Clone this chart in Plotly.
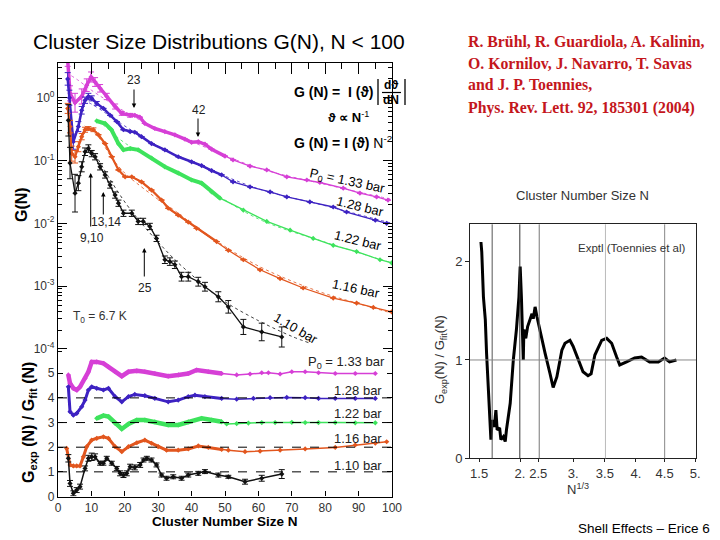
import plotly.graph_objects as go

W, H = 720, 540

# ---------------- left, upper panel: G(N), values read as log10 G ----------------
N_133 = [2.9, 3.6, 5.1, 7.1, 8.6, 9.9, 11.1, 12.6, 14.6, 17.1, 19.1, 21.6, 23, 24.5, 26, 29, 32, 35, 38, 40, 42, 44, 46, 50, 52.4, 57.5, 62.5, 68.5, 74.5, 78.4, 85.4, 90.4, 95.4, 98.8]
L_133 = [0.60, 0.07, -0.08, 0.02, 0.20, 0.33, 0.25, 0.15, 0.02, -0.14, -0.25, -0.28, -0.28, -0.31, -0.41, -0.49, -0.54, -0.59, -0.66, -0.71, -0.70, -0.74, -0.82, -0.93, -0.99, -1.09, -1.15, -1.26, -1.31, -1.35, -1.44, -1.52, -1.58, -1.63]
E_133 = [0.10, 0.12, 0.15, 0.12, 0.10, 0.08, 0.07, 0.06, 0.05, 0.04, 0.03, 0.03, 0, 0, 0, 0, 0, 0, 0, 0, 0, 0, 0, 0, 0, 0, 0, 0, 0, 0, 0, 0, 0, 0]

N_128 = [2.9, 3.4, 4.6, 6.1, 7.1, 8.1, 9.1, 10.1, 11.6, 13.6, 15.6, 17.6, 19.6, 21.6, 23, 25, 28, 32, 36, 40, 43, 46, 49, 52.4, 57.5, 63.5, 68.5, 75.4, 82.4, 86.4, 95, 98.4]
L_128 = [0.30, 0.00, -0.70, -0.46, -0.20, -0.04, 0.02, -0.01, -0.09, -0.17, -0.28, -0.38, -0.51, -0.54, -0.55, -0.62, -0.73, -0.83, -0.94, -1.02, -1.08, -1.16, -1.23, -1.34, -1.42, -1.50, -1.58, -1.66, -1.74, -1.82, -1.95, -2.00]
E_128 = [0.10, 0.12, 0.12, 0.08, 0.06, 0.05, 0.05, 0.04, 0.03, 0, 0, 0, 0, 0, 0, 0, 0, 0, 0, 0, 0, 0, 0, 0, 0, 0, 0, 0, 0, 0, 0, 0]

N_122 = [11.6, 14.1, 16, 18.1, 19.6, 21.6, 24, 28, 32, 36, 40, 43, 46, 48.5, 55.5, 62.5, 69.5, 76.4, 82.4, 89.4, 96.4, 99.9]
L_122 = [-0.37, -0.41, -0.51, -0.73, -0.83, -0.81, -0.83, -0.96, -1.10, -1.20, -1.31, -1.36, -1.50, -1.60, -1.79, -1.97, -2.11, -2.24, -2.35, -2.45, -2.58, -2.63]

N_116 = [2.9, 3.6, 4.1, 5.1, 6.1, 7.1, 8.1, 9.1, 10.6, 12.1, 14.1, 16.1, 18.1, 20.1, 22.1, 25, 28, 31, 33, 36, 39, 41.5, 47.5, 51, 55.5, 60.5, 66.5, 73.4, 82.4, 89.4, 94.4, 99.9]
L_116 = [-0.17, -0.46, -0.89, -0.94, -0.78, -0.62, -0.51, -0.49, -0.51, -0.59, -0.73, -0.94, -1.15, -1.26, -1.26, -1.34, -1.47, -1.63, -1.76, -1.87, -1.98, -2.08, -2.29, -2.43, -2.58, -2.74, -2.88, -3.03, -3.19, -3.27, -3.34, -3.41]
E_116 = [0.08, 0.10, 0.12, 0.10, 0.08, 0.05, 0.04, 0.03, 0.03, 0, 0, 0, 0, 0, 0, 0, 0, 0, 0, 0, 0, 0, 0, 0, 0, 0, 0, 0, 0, 0, 0, 0]

N_110 = [3.1, 3.6, 5.1, 6.1, 7.1, 8.1, 9.1, 10.1, 11.1, 12.6, 14.1, 15.6, 17.1, 18.1, 19.6, 22.1, 24, 25.5, 27.5, 29.5, 32, 33.5, 35, 37, 39, 42, 44, 48, 51, 55.5, 61, 67]
L_110 = [-0.36, -1.04, -1.52, -1.36, -1.10, -0.86, -0.81, -0.89, -0.94, -1.10, -1.23, -1.39, -1.55, -1.68, -1.84, -1.84, -1.97, -1.97, -2.05, -2.24, -2.58, -2.61, -2.66, -2.85, -2.85, -2.93, -3.01, -3.17, -3.33, -3.65, -3.73, -3.81]
E_110 = [0.25, 0.25, 0.30, 0.12, 0.08, 0.06, 0.06, 0.05, 0.05, 0.05, 0.05, 0.05, 0.05, 0.05, 0.05, 0.05, 0.05, 0.05, 0.05, 0.05, 0.06, 0.06, 0.06, 0.07, 0.07, 0.07, 0.07, 0.08, 0.10, 0.12, 0.14, 0.16]

# fit curves (dotted), read as log10 G
FN_133 = [4, 6, 8, 10, 14, 20, 30, 40, 60, 80, 100]
FL_133 = [0.35, 0.28, 0.20, 0.12, -0.02, -0.22, -0.50, -0.70, -1.12, -1.38, -1.62]
FN_128 = [6, 10, 15, 20, 30, 40, 60, 80, 100]
FL_128 = [0.00, -0.10, -0.27, -0.45, -0.78, -1.02, -1.45, -1.72, -2.00]
FN_122 = [12, 15, 20, 30, 40, 60, 80, 100]
FL_122 = [-0.36, -0.50, -0.72, -1.03, -1.30, -1.93, -2.30, -2.63]
FN_116 = [8, 12, 16, 20, 25, 30, 35, 40, 50, 60, 70, 80, 90, 100]
FL_116 = [-0.45, -0.62, -0.95, -1.20, -1.42, -1.62, -1.80, -2.00, -2.37, -2.68, -2.92, -3.12, -3.28, -3.43]
FN_110 = [9, 12, 15, 20, 25, 30, 35, 40, 45, 50, 60, 70, 75]
FL_110 = [-0.75, -0.98, -1.25, -1.66, -2.00, -2.30, -2.58, -2.82, -3.05, -3.25, -3.55, -3.80, -3.90]

# ---------------- left, lower panel: Gexp/Gfit (offset) ----------------
RN_133 = [3.1, 3.6, 4.6, 5.6, 6.6, 8.1, 9.1, 10.1, 11.6, 13.6, 15.1, 17.1, 19.1, 21.1, 23.6, 26, 29, 33, 36, 39, 41.5, 45, 49, 53.5, 57.5, 61, 63, 66.5, 70, 74, 78, 83, 89, 95]
RV_133 = [4.93, 4.59, 4.39, 4.32, 4.45, 4.79, 5.06, 5.46, 5.46, 5.40, 5.26, 5.06, 4.88, 5.06, 5.10, 5.06, 4.99, 4.88, 4.93, 4.99, 5.13, 5.06, 4.99, 4.93, 4.97, 5.02, 5.02, 4.97, 5.06, 5.06, 5.02, 4.99, 4.99, 4.99]
RN_128 = [3.1, 3.6, 4.6, 5.6, 7.1, 8.1, 9.1, 10.1, 11.6, 13.6, 15.1, 17.1, 19.1, 21.1, 23, 26, 29, 33, 36, 39, 41, 44, 49, 53.5, 58.5, 63.5, 68.5, 74, 78, 83, 89, 95]
RV_128 = [4.45, 3.44, 3.30, 3.37, 3.64, 3.91, 4.32, 4.45, 4.39, 4.32, 4.39, 4.05, 3.84, 4.05, 4.14, 4.09, 3.98, 3.84, 3.91, 4.05, 4.11, 4.05, 3.98, 3.95, 3.98, 4.01, 4.02, 4.01, 3.98, 3.98, 3.98, 3.98]
RN_122 = [11.6, 13.6, 15.1, 17.1, 19.1, 21.1, 23.6, 26, 29, 33, 36, 39, 43, 46, 49, 50.5, 53.5, 57, 61, 65, 70, 74, 78, 83, 89, 95]
RV_122 = [3.17, 3.28, 3.24, 2.97, 2.74, 2.94, 3.10, 3.10, 3.03, 2.90, 2.90, 3.03, 3.17, 3.10, 3.03, 2.94, 2.96, 2.98, 3.00, 3.00, 3.01, 3.00, 3.00, 3.00, 2.99, 2.99]
RN_116 = [2.6, 3.6, 4.6, 5.6, 6.6, 7.6, 8.6, 10.1, 11.6, 13.6, 15.1, 17.1, 19.1, 21.1, 23.6, 26, 28, 30, 32.5, 36, 39, 42, 45, 49, 51, 56, 60.5, 66.5, 74, 83, 89, 95, 98.4]
RV_116 = [1.95, 1.28, 1.24, 1.24, 1.24, 1.61, 2.02, 2.29, 2.36, 2.42, 2.36, 2.02, 1.82, 2.02, 2.18, 2.29, 2.16, 2.02, 1.88, 1.88, 1.93, 2.05, 1.99, 1.91, 1.88, 1.82, 1.84, 1.88, 1.93, 1.99, 2.09, 2.16, 2.22]
RN_110 = [3.1, 3.6, 4.6, 5.6, 6.6, 8.1, 9.1, 10.1, 11.1, 12.6, 13.6, 14.6, 16.1, 17.6, 18.6, 19.6, 20.6, 21.6, 23, 24.6, 25.6, 26.6, 28, 29.5, 31, 32.5, 34.5, 37, 39, 42, 44, 48, 51, 56, 61, 67]
RV_110 = [1.55, 0.53, 0.13, 0.26, 0.40, 1.14, 1.55, 1.61, 1.61, 1.35, 1.35, 1.55, 1.35, 1.14, 0.94, 0.87, 0.94, 1.21, 1.18, 1.28, 1.48, 1.55, 1.48, 1.28, 0.87, 0.74, 0.80, 0.74, 0.87, 0.94, 1.01, 0.87, 0.80, 0.60, 0.74, 0.91]
RE_110 = [0.15, 0.12, 0.10, 0.10, 0.10, 0.10, 0.12, 0.15, 0.12, 0.08, 0.08, 0.08, 0.08, 0.08, 0.10, 0.10, 0.10, 0.10, 0.10, 0.10, 0.08, 0.08, 0.08, 0.08, 0.08, 0.08, 0.08, 0.08, 0.08, 0.08, 0.08, 0.08, 0.06, 0.10, 0.12, 0.18]
REF_LINES = [1, 2, 3, 4]
LOWER_LABELS = ["1.10 bar", "1.16 bar", "1.22 bar", "1.28 bar", "P<sub>0</sub> = 1.33 bar"]

# ---------------- right panel: Gexp/Gfit vs N^(1/3) ----------------
X_R = [1.53, 1.543, 1.57, 1.60, 1.62, 1.65, 1.68, 1.69, 1.71, 1.745, 1.77, 1.79, 1.83, 1.85, 1.89, 1.92, 1.94, 2.00, 2.05, 2.10, 2.14, 2.16, 2.18, 2.21, 2.22, 2.25, 2.28, 2.32, 2.35, 2.37, 2.40, 2.43, 2.48, 2.56, 2.64, 2.69, 2.75, 2.83, 2.88, 2.96, 3.01, 3.09, 3.17, 3.25, 3.30, 3.36, 3.47, 3.55, 3.63, 3.71, 3.76, 3.87, 4.00, 4.11, 4.24, 4.38, 4.48, 4.56, 4.67]
Y_R = [2.20, 2.10, 1.64, 1.41, 1.07, 0.73, 0.39, 0.19, 0.39, 0.32, 0.49, 0.29, 0.31, 0.19, 0.22, 0.17, 0.29, 0.56, 1.00, 1.31, 1.64, 1.95, 1.64, 1.00, 1.31, 1.22, 1.34, 1.41, 1.47, 1.42, 1.54, 1.44, 1.31, 1.07, 0.86, 0.72, 0.83, 1.10, 1.17, 1.20, 1.14, 1.00, 0.88, 0.84, 0.86, 1.05, 1.20, 1.22, 1.17, 1.03, 0.95, 0.98, 1.02, 1.03, 0.98, 0.98, 1.02, 0.98, 1.00]
MAGIC_LINES_N = [5, 10, 15, 44, 90]
MAGIC_COLORS = ["#555555", "#333333", "#777777", "#bbbbbb", "#888888"]
TOP_LABELS = ["5", "10", "15", "23", "26", "44", "70", "90"]
TOP_POS = [1.784, 2.158, 2.414, 2.80, 3.067, 3.533, 4.094, 4.511]
BOT_LABELS = ["1.5", "2.", "2.5", "3.", "3.5", "4.", "4.5", "5."]
BOT_POS = [1.5, 2.158, 2.45, 3.01, 3.52, 4.02, 4.48, 4.97]

COL = {"133": "#d63fd6", "128": "#3d22c2", "122": "#3de35c", "116": "#e2561e", "110": "#111111"}
FONT = "Liberation Sans, Arial, sans-serif"
DENSE_LIMIT = 50  # data are densely sampled (thick-looking) below this N


def fx(px):
    return px / W


def fy(py):
    return 1 - py / H


fig = go.Figure()


def dense_part(N, Y):
    xs = [n for n in N if n <= DENSE_LIMIT]
    ys = [y for n, y in zip(N, Y) if n <= DENSE_LIMIT]
    return xs, ys


def add_upper(N, L, E, col, thick, msize):
    G = [10 ** v for v in L]
    tr = dict(x=N, y=G, xaxis="x", yaxis="y", mode="lines+markers",
              line=dict(color=col, width=1.3),
              marker=dict(color=col, size=msize, symbol="diamond"), showlegend=False)
    if E is not None:
        plus = [g * (10 ** e - 1) for g, e in zip(G, E)]
        minus = [g * (1 - 10 ** (-e)) for g, e in zip(G, E)]
        tr["error_y"] = dict(type="data", array=plus, arrayminus=minus, color=col, thickness=1, width=3)
    fig.add_trace(go.Scatter(**tr))
    if thick > 1.3:
        xs, ys = dense_part(N, G)
        fig.add_trace(go.Scatter(x=xs, y=ys, xaxis="x", yaxis="y", mode="lines",
                                 line=dict(color=col, width=thick), showlegend=False))


def add_fit(N, L, col):
    fig.add_trace(go.Scatter(x=N, y=[10 ** v for v in L], xaxis="x", yaxis="y", mode="lines",
                             line=dict(color=col, width=1, dash="dot", shape="spline"),
                             opacity=0.8, showlegend=False))


add_fit(FN_133, FL_133, COL["133"])
add_fit(FN_128, FL_128, COL["128"])
add_fit(FN_122, FL_122, COL["122"])
add_fit(FN_116, FL_116, COL["116"])
add_fit(FN_110, FL_110, COL["110"])
add_upper(N_133, L_133, E_133, COL["133"], 3.5, 4)
add_upper(N_128, L_128, E_128, COL["128"], 2.5, 4)
add_upper(N_122, L_122, None, COL["122"], 4, 4)
add_upper(N_116, L_116, E_116, COL["116"], 2.2, 4)
add_upper(N_110, L_110, E_110, COL["110"], 1.0, 4)


def add_lower(N, V, col, thick, E=None):
    tr = dict(x=N, y=V, xaxis="x2", yaxis="y2", mode="lines+markers",
              line=dict(color=col, width=1.5),
              marker=dict(color=col, size=4, symbol="diamond"), showlegend=False)
    if E is not None:
        tr["error_y"] = dict(type="data", array=E, color=col, thickness=1, width=3)
    fig.add_trace(go.Scatter(**tr))
    if thick > 1.5:
        xs, ys = dense_part(N, V)
        fig.add_trace(go.Scatter(x=xs, y=ys, xaxis="x2", yaxis="y2", mode="lines",
                                 line=dict(color=col, width=thick), showlegend=False))


add_lower(RN_133, RV_133, COL["133"], 4.5)
add_lower(RN_128, RV_128, COL["128"], 3)
add_lower(RN_122, RV_122, COL["122"], 4.5)
add_lower(RN_116, RV_116, COL["116"], 3)
add_lower(RN_110, RV_110, COL["110"], 1.2, RE_110)

fig.add_trace(go.Scatter(x=X_R, y=Y_R, xaxis="x4", yaxis="y4", mode="lines",
                         line=dict(color="#000000", width=3), showlegend=False))

axis_font = dict(family=FONT, size=12, color="#333333")
xdom = [fx(58), fx(392)]
fig.update_layout(
    width=W, height=H, template="none",
    paper_bgcolor="white", plot_bgcolor="rgba(0,0,0,0)",
    margin=dict(l=0, r=0, t=0, b=0),
    xaxis=dict(domain=xdom, anchor="y", range=[0, 100], side="top", showline=True, linecolor="black",
               linewidth=1.2, ticks="inside", ticklen=11, tickcolor="black", dtick=10, tick0=0,
               showticklabels=False, showgrid=False, zeroline=False,
               minor=dict(ticks="inside", ticklen=6, dtick=5, tickcolor="black")),
    xaxis3=dict(overlaying="x", anchor="y", side="bottom", range=[0, 100], showline=False,
                ticks="inside", ticklen=13, tickcolor="black", dtick=10, tick0=0,
                showticklabels=False, showgrid=False, zeroline=False,
                minor=dict(ticks="inside", ticklen=7, dtick=5, tickcolor="black")),
    yaxis=dict(domain=[fy(355), fy(63)], anchor="x", type="log", range=[-4.097, 0.553],
               showline=True, mirror="ticks", linecolor="black", linewidth=1.2,
               ticks="inside", ticklen=9, tickcolor="black",
               tickvals=[1, 0.1, 0.01, 0.001, 0.0001],
               ticktext=["10<sup>0</sup>", "10<sup>-1</sup>", "10<sup>-2</sup>", "10<sup>-3</sup>", "10<sup>-4</sup>"],
               tickfont=axis_font, showgrid=False, zeroline=False,
               minor=dict(ticks="inside", ticklen=4, dtick="D1", tickcolor="black")),
    xaxis2=dict(domain=xdom, anchor="y2", range=[0, 100], showline=True, linecolor="black",
                linewidth=1.2, ticks="inside", ticklen=5, tickcolor="black", dtick=10, tick0=0,
                tickfont=axis_font, ticklabelstandoff=0, showgrid=False, zeroline=False),
    yaxis2=dict(domain=[fy(496.5), fy(355)], anchor="x2", range=[0, 5.74],
                showline=True, mirror="ticks", linecolor="black", linewidth=1.2,
                ticks="inside", ticklen=5, tickcolor="black", tickvals=[0, 1, 2, 3, 4, 5],
                tickfont=axis_font, showgrid=False, zeroline=False),
    xaxis4=dict(domain=[fx(470), fx(696)], anchor="y4", range=[1.354, 4.985], showline=True,
                mirror=True, linecolor="#222222", linewidth=1, ticks="outside", ticklen=3,
                tickcolor="#222222", tickvals=BOT_POS, ticktext=BOT_LABELS,
                tickfont=dict(family=FONT, size=13, color="#333333"), showgrid=False, zeroline=False),
    xaxis5=dict(overlaying="x4", anchor="y4", side="top", range=[1.354, 4.985], showline=False,
                ticks="", tickvals=TOP_POS, ticktext=TOP_LABELS,
                tickfont=dict(family=FONT, size=13, color="#333333"), showgrid=False, zeroline=False),
    yaxis4=dict(domain=[fy(458.3), fy(224.3)], anchor="x4", range=[0, 2.38], showline=True,
                mirror=True, linecolor="#222222", linewidth=1, ticks="outside", ticklen=4,
                tickcolor="#222222", tickvals=[0, 1, 2],
                tickfont=dict(family=FONT, size=13, color="#333333"), showgrid=False, zeroline=False),
)

shapes = []
for v in REF_LINES:
    shapes.append(dict(type="line", xref="x2 domain", yref="y2", x0=0, x1=1, y0=v, y1=v,
                       line=dict(color="black", width=1, dash="dash")))
for n, c in zip(MAGIC_LINES_N, MAGIC_COLORS):
    xv = n ** (1 / 3)
    shapes.append(dict(type="line", xref="x4", yref="y4 domain", x0=xv, x1=xv, y0=0, y1=1,
                       line=dict(color=c, width=1)))
shapes.append(dict(type="line", xref="x4 domain", yref="y4", x0=0, x1=1, y0=1, y1=1,
                   line=dict(color="#888888", width=1)))
# absolute-value bars of the dθ/dN fraction
shapes.append(dict(type="line", xref="paper", yref="paper", x0=fx(378), x1=fx(378), y0=fy(79), y1=fy(105),
                   line=dict(color="black", width=1.3)))
shapes.append(dict(type="line", xref="paper", yref="paper", x0=fx(405), x1=fx(405), y0=fy(79), y1=fy(105),
                   line=dict(color="black", width=1.3)))
shapes.append(dict(type="line", xref="paper", yref="paper", x0=fx(382), x1=fx(401), y0=fy(92.5), y1=fy(92.5),
                   line=dict(color="black", width=1.2)))
fig.update_layout(shapes=shapes)

ann = []


def T(text, px, py, size=13, color="black", family=FONT, angle=0, xanchor="center", **kw):
    ann.append(dict(x=fx(px), y=fy(py), xref="paper", yref="paper", text=text, showarrow=False,
                    font=dict(family=family, size=size, color=color), textangle=angle,
                    xanchor=xanchor, yanchor="middle", **kw))


def ARROW(px, py_tail, py_head):
    ann.append(dict(x=fx(px), y=fy(py_head), xref="paper", yref="paper", text="",
                    showarrow=True, ax=0, ay=py_tail - py_head, arrowhead=2, arrowsize=0.9,
                    arrowwidth=1, arrowcolor="black"))


T("Cluster Size Distributions G(N), N &lt; 100", 219, 42, size=21)
T("<b>G(N)</b>", 21, 205, size=16, angle=-90)
T("<b>G<sub>exp</sub> (N) / G<sub>fit</sub> (N)</b>", 29, 423, size=16, angle=-90)
T("<b>Cluster Number Size N</b>", 225, 521, size=13.5)
T("23", 134, 80, size=12, color="#222222")
ARROW(134, 88, 108)
T("42", 199, 110, size=12, color="#222222")
ARROW(198, 117, 137)
T("9,10", 92, 238, size=12, color="#222222")
ARROW(90.7, 228, 173)
T("13,14", 106, 222, size=12, color="#222222")
ARROW(103.3, 216, 192)
T("25", 145, 288, size=12, color="#222222")
ARROW(144.3, 278, 248)
T("T<sub>0</sub> = 6.7 K", 100, 317, size=12, color="#333333")
T("<b>G (N) =  I (ϑ)</b>", 292, 92, size=14, xanchor="left")
T("<b>dϑ</b>", 391.5, 85, size=12)
T("<b>dN</b>", 391.5, 100, size=12)
T("<b>ϑ ∝ N</b><sup>-1</sup>", 348, 117, size=13)
T("<b>G (N) = I (ϑ)</b> N<sup>-2</sup>", 292, 142, size=14, xanchor="left")
T("P<sub>0</sub> = 1.33 bar", 347, 181, size=13, angle=12)
T("1.28 bar", 360, 207, size=13, angle=14)
T("1.22 bar", 358, 240, size=13, angle=14)
T("1.16 bar", 356, 288, size=13, angle=12)
T("1.10 bar", 296, 328, size=13, angle=30)
for lab, py in zip(LOWER_LABELS, [465, 438, 413, 390, 362]):
    T(lab, 358 if "P" not in lab else 346, py, size=13, color="#222222")

# right panel texts
T("Cluster Number Size N", 582, 195, size=13, color="#333333")
T("Exptl (Toennies et al)", 632, 248, size=11.5, color="#333333")
T("G<sub>exp</sub>(N) / G<sub>fit</sub>(N)", 440, 360, size=13, color="#333333", angle=-90)
T("N<sup>1/3</sup>", 578, 489, size=13, color="#333333")

# citation text
RED = "#c4161c"
SERIF = "Liberation Serif, Times New Roman, serif"
T("<b>R. Brühl, R. Guardiola, A. Kalinin,</b>", 466, 41, size=15.8, color=RED, family=SERIF, xanchor="left")
T("<b>O. Kornilov, J. Navarro, T. Savas</b>", 466, 63, size=15.8, color=RED, family=SERIF, xanchor="left")
T("<b>and J. P. Toennies,</b>", 466, 84, size=15.8, color=RED, family=SERIF, xanchor="left")
T("<b>Phys. Rev. Lett. 92, 185301 (2004)</b>", 466, 108, size=15.8, color=RED, family=SERIF, xanchor="left")
T("Shell Effects – Erice 6", 712, 528, size=13.5, color="black", xanchor="right")

fig.update_layout(annotations=ann)
fig.write_html("out.html", post_script="document.body.style.margin='0';",
               config={"displayModeBar": False})
